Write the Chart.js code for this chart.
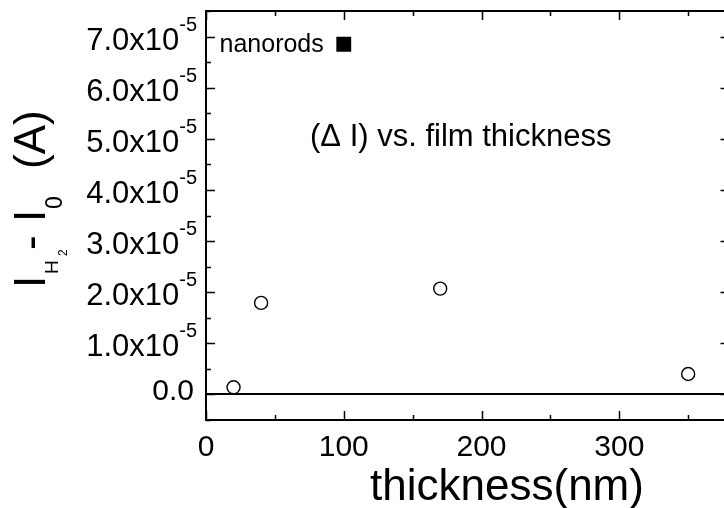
<!DOCTYPE html>
<html>
<head>
<meta charset="utf-8">
<title>thickness</title>
<script src="https://cdn.jsdelivr.net/npm/chart.js@4.4.1/dist/chart.umd.min.js"></script>
<style>
  html, body { margin: 0; padding: 0; background: #fff; }
  #wrap { width: 724px; height: 508px; overflow: hidden; position: relative; }
  #box { width: 740px; height: 508px; position: absolute; left: 0; top: 0; }
</style>
</head>
<body>
<div id="wrap"><div id="box"><canvas id="chart"></canvas></div></div>
<script>
// film samples (thin films) and the nanorod sample
const thickness = [20, 40, 170, 350];
const deltaI = [0.14e-5, 1.79e-5, 2.07e-5, 0.40e-5];
const nanorodThickness = [100];
const nanorodDeltaI = [6.85e-5];

const xMajor = [0, 100, 200, 300];
const xMinor = [50, 150, 250, 350];
const yMajor = [0, 1e-5, 2e-5, 3e-5, 4e-5, 5e-5, 6e-5, 7e-5];
const yMinor = [-0.5e-5, 0.5e-5, 1.5e-5, 2.5e-5, 3.5e-5, 4.5e-5, 5.5e-5, 6.5e-5, 7.5e-5];
const yMantissa = ['0.0', '1.0', '2.0', '3.0', '4.0', '5.0', '6.0', '7.0'];
const yExponent = '-5';

const FONT = '"Liberation Sans", Arial, sans-serif';

// axes frame, inward ticks, labels and annotations
const decor = {
    id: 'decor',
    beforeDatasetsDraw(chart) {
        const ctx = chart.ctx;
        const a = chart.chartArea;
        const y0 = Math.round(chart.scales.y.getPixelForValue(0));
        ctx.save();
        ctx.strokeStyle = '#000';
        ctx.lineWidth = 2;
        ctx.beginPath();
        ctx.moveTo(a.left, y0);
        ctx.lineTo(a.right, y0);
        ctx.stroke();
        ctx.restore();
    },
    afterDraw(chart) {
        const ctx = chart.ctx;
        const a = chart.chartArea;
        const sx = chart.scales.x, sy = chart.scales.y;
        ctx.save();
        ctx.strokeStyle = '#000';
        ctx.fillStyle = '#000';
        ctx.lineWidth = 2;
        ctx.strokeRect(a.left, a.top, a.right - a.left, a.bottom - a.top);

        ctx.lineWidth = 1.5;
        ctx.beginPath();
        function xTick(v, len) {
            const px = Math.round(sx.getPixelForValue(v)) + 0.5;
            ctx.moveTo(px, a.bottom); ctx.lineTo(px, a.bottom - len);
            ctx.moveTo(px, a.top); ctx.lineTo(px, a.top + len);
        }
        function yTick(v, len) {
            const py = Math.round(sy.getPixelForValue(v)) + 0.5;
            ctx.moveTo(a.left, py); ctx.lineTo(a.left + len, py);
            ctx.moveTo(a.right, py); ctx.lineTo(a.right - len, py);
        }
        xMajor.forEach(v => xTick(v, 9));
        xMinor.forEach(v => xTick(v, 5));
        yMajor.forEach(v => yTick(v, 9));
        yMinor.forEach(v => yTick(v, 5));
        ctx.stroke();

        // x tick labels
        ctx.font = '30px ' + FONT;
        ctx.textAlign = 'center';
        ctx.textBaseline = 'alphabetic';
        xMajor.forEach(v => {
            ctx.fillText(String(v), sx.getPixelForValue(v), 456);
        });

        // y tick labels with superscript exponent
        const labelRight = 197;
        yMajor.forEach((v, i) => {
            const py = sy.getPixelForValue(v);
            if (v === 0) {
                ctx.font = '30px ' + FONT;
                ctx.textAlign = 'right';
                ctx.fillText(yMantissa[i], labelRight - 3, py + 6);
                return;
            }
            ctx.font = '20px ' + FONT;
            ctx.textAlign = 'right';
            const supW = ctx.measureText(yExponent).width;
            ctx.fillText(yExponent, labelRight, py - 6);
            ctx.font = '31px ' + FONT;
            ctx.fillText(yMantissa[i] + 'x10', labelRight - supW, py + 13);
        });

        // x axis title
        ctx.font = '44px ' + FONT;
        ctx.textAlign = 'center';
        ctx.fillText('thickness(nm)', 507, 500);

        // y axis title: I_H2 - I_0 (A), rotated
        ctx.save();
        ctx.translate(45, 288);
        ctx.rotate(-Math.PI / 2);
        ctx.textAlign = 'left';
        ctx.font = '44px ' + FONT;
        ctx.fillText('I', 0, 0);
        ctx.font = '19px ' + FONT;
        ctx.fillText('H', 14, 13);
        ctx.font = '12px ' + FONT;
        ctx.fillText('2', 32, 22);
        ctx.font = '44px ' + FONT;
        ctx.fillText('-', 38, 0);
        ctx.fillText('I', 66, 0);
        ctx.font = '23px ' + FONT;
        ctx.fillText('0', 79, 17);
        ctx.font = '44px ' + FONT;
        ctx.fillText('(A)', 119, 0);
        ctx.restore();

        // annotations
        ctx.textAlign = 'left';
        ctx.font = '31px ' + FONT;
        ctx.fillText('(\u0394 I) vs. film thickness', 310, 146);
        ctx.font = '25px ' + FONT;
        const nx = sx.getPixelForValue(nanorodThickness[0]);
        const ny = sy.getPixelForValue(nanorodDeltaI[0]);
        ctx.textAlign = 'right';
        ctx.fillText('nanorods', nx - 20, ny + 8);
        ctx.restore();
    }
};

const ctx = document.getElementById('chart').getContext('2d');
const chart = new Chart(ctx, {
    type: 'scatter',
    data: {
        datasets: [{
            label: 'films',
            data: thickness.map((t, i) => ({ x: t, y: deltaI[i] })),
            pointStyle: 'circle',
            pointRadius: 6.5,
            pointBorderWidth: 1.4,
            pointBorderColor: '#000',
            pointBackgroundColor: '#fff'
        }, {
            label: 'nanorods',
            data: nanorodThickness.map((t, i) => ({ x: t, y: nanorodDeltaI[i] })),
            pointStyle: 'rect',
            pointRadius: 10.5,
            pointBorderWidth: 0,
            pointBorderColor: '#000',
            pointBackgroundColor: '#000'
        }]
    },
    options: {
        responsive: true,
        maintainAspectRatio: false,
        animation: false,
        layout: {
            padding: { left: 206, right: 9, top: 11, bottom: 88 }
        },
        plugins: {
            legend: { display: false },
            tooltip: { enabled: false }
        },
        scales: {
            x: { type: 'linear', min: 0, max: 380, display: false },
            y: { type: 'linear', min: -0.5e-5, max: 7.5e-5, display: false }
        }
    },
    plugins: [decor]
});
</script>
</body>
</html>
